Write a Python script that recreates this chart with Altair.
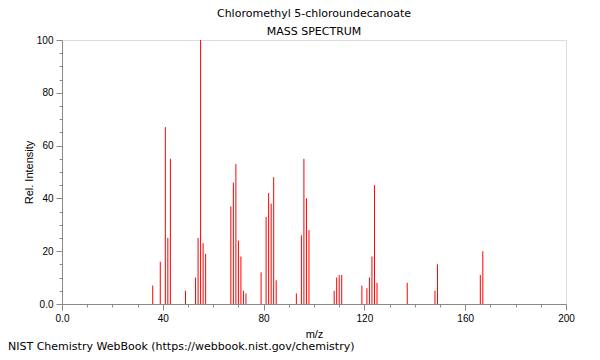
import altair as alt
import pandas as pd

# Peaks
mz = [36, 39, 41, 42, 43, 49, 53, 54, 55, 56, 57,
      67, 68, 69, 70, 71, 72, 73,
      79, 81, 82, 83, 84, 85,
      93, 95, 96, 97, 98,
      108, 109, 110, 111,
      119, 121, 122, 123, 124, 125,
      137, 148, 149, 166, 167]
intensity = [7, 16, 67, 25, 55, 5, 10, 25, 100, 23, 19,
             37, 46, 53, 24, 18, 5, 4,
             12, 33, 42, 38, 48, 9,
             4, 26, 55, 40, 28,
             5, 10, 11, 11,
             7, 6, 10, 18, 45, 8,
             8, 5, 15, 11, 20]

title_text = "Chloromethyl 5-chloroundecanoate"
subtitle_text = "MASS SPECTRUM"
x_title = "m/z"
y_title = "Rel. Intensity"
footer_text = ["NIST Chemistry WebBook (https://webbook.nist.gov/chemistry)"]

x_ticks = list(range(0, 201, 10))
y_ticks = list(range(0, 101, 5))

df = pd.DataFrame({"mz": mz, "intensity": intensity})
foot = pd.DataFrame({"t": footer_text})

FONT = "DejaVu Sans"
AXC = "#222222"

x_enc = alt.X(
    "mz:Q",
    scale=alt.Scale(domain=[0, 200], nice=False, zero=False),
    axis=alt.Axis(
        title=x_title,
        values=x_ticks,
        labelExpr="datum.value % 40 === 0 ? (datum.value === 0 ? '0.0' : format(datum.value, 'd')) : ''",
        tickSize={"condition": {"test": "datum.value % 40 === 0", "value": 6}, "value": 3},
        labelOverlap=False,
        labelFlush=False,
        labelPadding=3,
        titlePadding=5,
        titleFontWeight="normal",
        grid=False,
    ),
)
y_enc = alt.Y(
    "intensity:Q",
    scale=alt.Scale(domain=[0, 100], nice=False),
    axis=alt.Axis(
        title=y_title,
        values=y_ticks,
        labelExpr="datum.value % 20 === 0 ? (datum.value === 0 ? '0.0' : format(datum.value, 'd')) : ''",
        tickSize={"condition": {"test": "datum.value % 20 === 0", "value": 6}, "value": 3},
        labelOverlap=False,
        labelFlush=False,
        labelPadding=3,
        titlePadding=2,
        titleFontWeight="normal",
        grid=False,
    ),
)

bars = alt.Chart(df).mark_rule(color="#ff0000", strokeWidth=1).encode(
    x=x_enc,
    y=y_enc,
    y2=alt.datum(0),
)

footer = alt.Chart(foot).mark_text(
    align="left", baseline="middle", font=FONT, fontSize=11, color="#000000"
).encode(
    text="t:N",
    x=alt.value(-54),
    y=alt.value(307),
)

chart = alt.layer(bars, footer).properties(
    width=504,
    height=264,
    padding={"left": 54, "top": 32, "right": 26, "bottom": 48},
    autosize=alt.AutoSizeParams(type="none"),
    title=alt.TitleParams(
        text=title_text,
        subtitle=subtitle_text,
        font=FONT,
        fontSize=11,
        fontWeight="normal",
        color="#000000",
        subtitleFont=FONT,
        subtitleFontSize=11,
        subtitleColor="#000000",
        subtitlePadding=7,
        anchor="middle",
        offset=-2,
    ),
).configure_view(
    stroke=AXC, strokeWidth=1
).configure_axis(
    domainColor=AXC,
    tickColor=AXC,
    labelColor="#000000",
    titleColor="#000000",
    labelFont=FONT,
    titleFont=FONT,
    labelFontSize=11,
    titleFontSize=11,
    titleFontWeight="normal",
).configure(background="#ffffff")

chart.save("out.html", embed_options={"renderer": "svg", "actions": False})
